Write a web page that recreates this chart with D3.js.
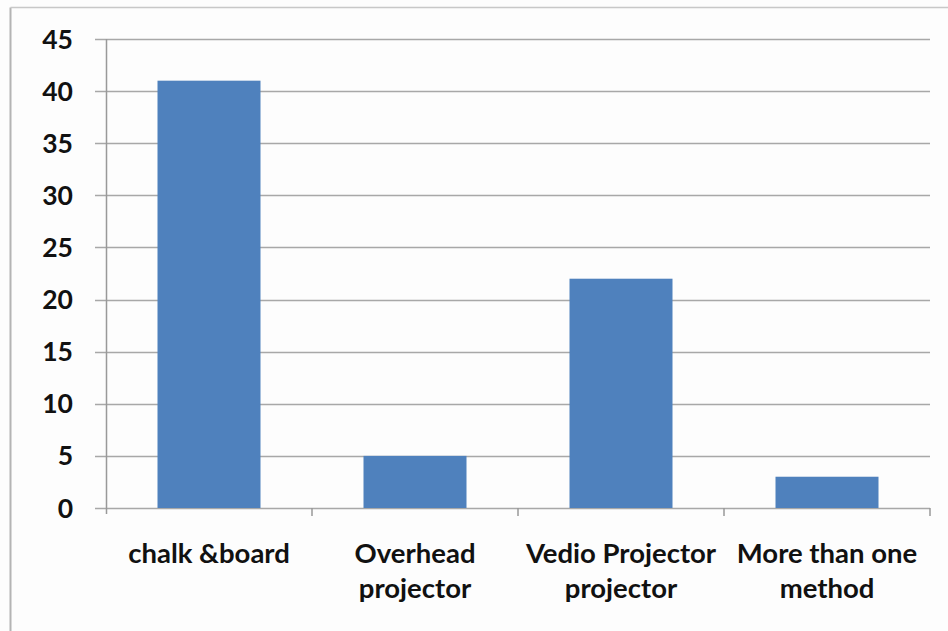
<!DOCTYPE html>
<html><head><meta charset="utf-8">
<script src="https://cdn.jsdelivr.net/npm/d3@7"></script>
<style>
html,body{margin:0;padding:0;background:#fdfdfd;}
svg{display:block;}
text{font-family:Lato,"Open Sans",sans-serif;fill:#111;}
</style></head>
<body>
<script>
const categories = [["chalk &board"], ["Overhead", "projector"], ["Vedio Projector", "projector"], ["More than one", "method"]];
const values = [41, 5, 22, 3];
const yTicks = [0, 5, 10, 15, 20, 25, 30, 35, 40, 45];

const W = 948, H = 631;
const m = {left: 106, right: 18, top: 39, bottom: 123};
const svg = d3.select("body").append("svg").attr("width", W).attr("height", H);

svg.append("rect").attr("width", W).attr("height", H).attr("fill", "#fdfdfd");
// outer border (left and top visible)
svg.append("line").attr("x1", 10.5).attr("x2", 10.5).attr("y1", 7.5).attr("y2", H).attr("stroke", "#b4b4b4").attr("stroke-width", 2);
svg.append("line").attr("x1", 10.5).attr("x2", W).attr("y1", 7.5).attr("y2", 7.5).attr("stroke", "#c8c8c8").attr("stroke-width", 1.5);

const x = d3.scaleBand().domain(d3.range(categories.length)).range([m.left, W - m.right]).paddingInner(0.5).paddingOuter(0.25);
const y = d3.scaleLinear().domain([0, 45]).range([H - m.bottom, m.top]);

// gridlines
svg.append("g").selectAll("line").data(yTicks).join("line")
  .attr("x1", m.left - 11).attr("x2", W - m.right)
  .attr("y1", d => Math.round(y(d)) + 0.5).attr("y2", d => Math.round(y(d)) + 0.5)
  .attr("stroke", "#a8a8a8").attr("stroke-width", 1.5);

// bars
svg.append("g").selectAll("rect").data(values).join("rect")
  .attr("x", (d, i) => x(i)).attr("width", x.bandwidth())
  .attr("y", d => y(d)).attr("height", d => y(0) - y(d))
  .attr("fill", "#4f81bd");

// y axis line
svg.append("line").attr("x1", m.left + 0.5).attr("x2", m.left + 0.5).attr("y1", m.top).attr("y2", y(0) + 6)
  .attr("stroke", "#999").attr("stroke-width", 1.5);

// x ticks at category boundaries
const step = x.step();
const bounds = d3.range(categories.length + 1).map(i => m.left + i * step);
svg.append("g").selectAll("line").data(bounds.slice(1)).join("line")
  .attr("x1", d => d).attr("x2", d => d)
  .attr("y1", y(0)).attr("y2", y(0) + 8)
  .attr("stroke", "#999").attr("stroke-width", 1.5);

// y tick labels
svg.append("g").selectAll("text").data(yTicks).join("text")
  .attr("x", 73).attr("y", d => y(d)).attr("dy", "0.36em")
  .attr("text-anchor", "end").attr("font-size", 26.5).attr("font-weight", "bold")
  .text(d => d);

// x labels
const xl = svg.append("g").selectAll("text").data(categories).join("text")
  .attr("text-anchor", "middle").attr("font-size", 27.5).attr("font-weight", "bold")
  .attr("transform", (d, i) => `translate(${x(i) + x.bandwidth() / 2},563)`);
xl.selectAll("tspan").data(d => d).join("tspan")
  .attr("x", 0).attr("y", (d, j) => j * 35).text(d => d);
</script>
</body></html>
